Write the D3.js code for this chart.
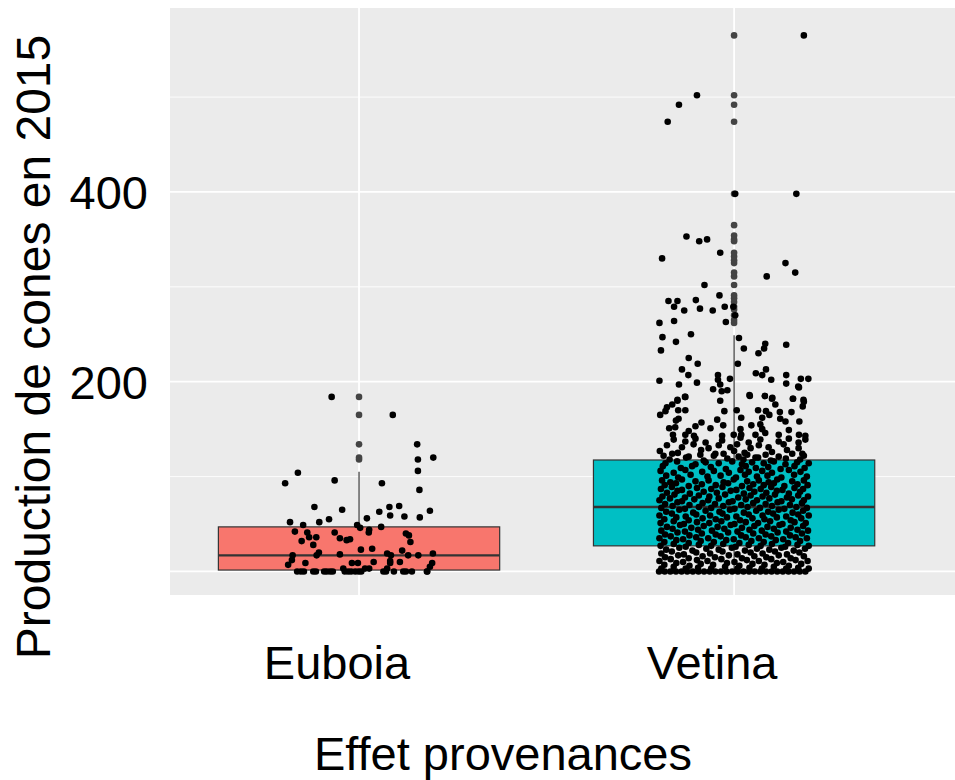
<!DOCTYPE html>
<html><head><meta charset="utf-8">
<script src="https://cdn.jsdelivr.net/npm/d3@7"></script>
<style>
body{margin:0;background:#fff}
svg{display:block;font-family:"Liberation Sans",Arial,Helvetica,sans-serif}
</style>
</head><body>
<svg id="chart" width="955" height="780"></svg>
<script>
// ---------------- DATA ----------------
const categories = ["Euboia", "Vetina"];
const fillColors = ["#F8766D", "#00BFC4"];
const yLabelTicks = [200, 400];
const yMajorBreaks = [0, 200, 400];
const yMinorBreaks = [100, 300, 500];
const xTitle = "Effet provenances";
const yTitle = "Production de cones en 2015";

// boxplot summary (lower whisker, Q1, median, Q3, upper whisker)
const boxLower  = [0, 0];
const boxQ1     = [1.5, 27];
const boxMedian = [17, 68];
const boxQ3     = [47, 117.5];
const boxUpper  = [105, 249];
const euboiaOutliers = [118, 120, 134, 165, 184];
const vetinaOutliers = [262,265,270,276,279,284,288,291,302,311,315,325,328,332,336,348,350,354,365,398,474,492,502,565];

// jittered observations: [horizontal jitter (category units), value]
const euboiaPoints = [
[-0.073,184],[0.090,165],[0.155,134],[0.157,118],[0.198,120],[0.157,106],[0.161,86],[-0.163,104],[-0.197,93],[-0.065,96],
[0.061,93],[-0.119,68],[-0.045,65],[0.081,68],[0.107,69],[0.054,63],[0.083,59],[0.121,58],[0.189,64],[0.162,57],
[-0.184,52],[-0.149,49],[-0.106,52],[-0.080,55],[0.021,56],[-0.005,49],[0.003,46],[0.027,44],[0.026,41],[0.059,47],
[-0.171,42],[-0.138,41],[-0.133,36],[-0.114,36],[-0.153,32],[-0.122,28],[-0.065,41],[-0.051,35],[-0.033,33],[-0.024,34],
[0.125,40],[0.133,38],[0.137,31],[0.005,23],[0.035,24],[0.115,22],[-0.107,20],[-0.113,17],[-0.051,18],[-0.177,17],
[-0.179,12],[-0.189,7],[-0.143,9],[0.075,19],[0.085,17],[0.083,11],[0.083,9],[0.109,10],[0.131,17],[0.158,17],
[0.197,19],[0.195,9],[0.189,5],[0.181,0],[0.039,10],[-0.019,9],[-0.003,9],[-0.042,3],[0.027,3],[0.016,3],[0.075,3],
[-0.165,0],[-0.155,0],[-0.147,0],[-0.122,0],[-0.115,0],[-0.093,0],[-0.086,0],[-0.077,0],[-0.070,0],[-0.038,0],
[-0.029,0],[-0.021,0],[-0.010,0],[-0.001,0],[0.006,0],[0.065,0],[0.072,0],[0.093,0],[0.118,0],[0.125,0],[0.141,0],[0.182,0]
];

const vetinaPoints = [
[0.186,565],[-0.099,502],[-0.147,492],[-0.177,474],[0.003,398],[0.166,398],
[-0.127,353],[-0.093,348],[-0.072,350],[-0.037,336],[-0.192,330],[0.137,325],[0.163,315],[0.087,311],[-0.079,302],[-0.039,291],
[-0.175,285],[-0.151,285],[-0.102,286],[-0.160,279],[-0.133,275],[-0.091,277],[-0.057,275],[-0.025,279],[-0.002,279],
[-0.199,262],[-0.160,264],[-0.022,263],[0.003,270],[-0.191,247],[-0.115,250],[-0.155,242],[-0.195,233],[0.013,246],
[0.026,235],[0.083,240],[0.080,235],[0.065,230],[0.139,239],[-0.121,225],[-0.097,219],[-0.139,213],[-0.122,207],
[0.010,219],[0.058,209],[0.075,207],[0.085,213],[0.099,202],[0.139,207],[0.139,198],[0.178,203],[0.198,203],[0.171,195],
[-0.199,201],[-0.147,197],[-0.099,199],[-0.043,207],[-0.043,202],[-0.037,197],[-0.011,203],[-0.056,192],[-0.033,190],
[-0.018,191],[-0.130,184],[-0.151,181],[0.042,185],[0.082,185],[0.102,183],[0.157,182],[0.185,181],
[-0.131,184],[-0.151,180],[-0.165,176],[-0.179,173],[-0.197,165],[-0.183,169],[-0.149,170],[-0.130,170],[-0.037,180],
[-0.026,169],[0.041,186],[0.082,185],[0.101,182],[0.110,176],[0.157,182],[0.186,179],[0.183,174],[0.173,194],[0.007,170],
[0.064,170],[0.085,169],[0.094,165],[0.122,168],[0.153,168],[0.123,161],[0.137,158],[0.174,158],[0.075,162],[0.070,155],
[0.046,154],[0.019,162],[-0.045,160],[-0.029,154],[-0.063,151],[-0.087,157],[-0.103,153],[-0.121,148],[-0.148,161],
[-0.155,159],[-0.173,151],[-0.157,152],[-0.163,144],[-0.130,144],[-0.107,143],[-0.032,143],[-0.001,144],[0.017,150],
[0.019,144],[0.075,150],[0.083,146],[0.057,144],[0.119,144],[0.146,149],[0.173,144],[0.190,143],
[-0.161,139],[-0.130,137],[-0.103,140],[-0.076,136],[-0.032,138],[0.017,141],[0.039,136],[0.070,139],[0.119,137],[0.146,140],[0.172,136],[0.190,139],
[-0.179,133],[-0.139,131],[-0.108,134],[-0.068,130],[-0.041,133],[-0.010,131],[0.008,134],[0.044,130],[0.066,133],[0.092,131],[0.132,134],[0.172,130],
[-0.198,127],[-0.150,125],[-0.088,128],[-0.050,124],[0.000,127],[0.028,125],[0.101,126],[0.141,128],[0.182,124],
[-0.188,122],[-0.165,124],[-0.121,121],[-0.090,123],[-0.054,122],[-0.028,124],[0.012,121],[0.035,123],[0.057,120],[0.084,123],[0.119,121],[0.155,124],[0.186,122],
[-0.172,118],[-0.128,120],[-0.081,117],[-0.018,119],[0.025,118],[0.064,120],[0.098,117],[0.138,119],[0.176,118],
[-0.183,114],[-0.152,116],[-0.103,113],[-0.076,115],[-0.041,114],[-0.005,116],[0.021,113],[0.048,115],[0.079,114],[0.106,116],[0.137,113],[0.168,115],[0.199,114],
[-0.190,111],[-0.142,109],[-0.112,111],[-0.062,110],[-0.022,108],[0.031,111],[0.058,109],[0.091,110],[0.124,108],[0.161,111],[0.188,109],
[-0.196,106],[-0.161,104],[-0.130,107],[-0.085,105],[-0.054,106],[-0.014,104],[0.017,107],[0.039,105],[0.075,106],[0.101,104],[0.146,107],[0.177,105],
[-0.181,101],[-0.149,99],[-0.116,102],[-0.071,100],[-0.036,101],[0.005,99],[0.029,102],[0.061,100],[0.089,101],[0.126,99],[0.160,102],[0.194,100],
[-0.192,96],[-0.170,94],[-0.139,97],[-0.103,95],[-0.068,96],[-0.028,94],[-0.001,97],[0.035,95],[0.066,96],[0.092,94],[0.115,97],[0.155,95],[0.186,96],
[-0.185,91],[-0.155,93],[-0.121,90],[-0.086,92],[-0.049,91],[-0.016,93],[0.021,90],[0.051,92],[0.079,91],[0.106,93],[0.134,90],[0.169,92],[0.196,91],
[-0.195,87],[-0.166,89],[-0.139,86],[-0.099,88],[-0.061,87],[-0.031,89],[0.006,86],[0.041,88],[0.071,87],[0.099,89],[0.129,86],[0.161,88],[0.184,87],
[-0.179,83],[-0.151,85],[-0.118,82],[-0.081,84],[-0.046,83],[-0.009,85],[0.026,82],[0.054,84],[0.086,83],[0.114,85],[0.146,82],[0.176,84],
[-0.191,79],[-0.159,81],[-0.131,78],[-0.094,80],[-0.066,79],[-0.024,81],[0.011,78],[0.044,80],[0.076,79],[0.109,81],[0.141,78],[0.171,80],[0.197,79],
[-0.199,75],[-0.171,77],[-0.139,74],[-0.106,76],[-0.069,75],[-0.041,77],[-0.004,74],[0.031,76],[0.061,75],[0.094,77],[0.126,74],[0.154,76],[0.186,75],
[-0.184,71],[-0.151,73],[-0.119,70],[-0.084,72],[-0.051,71],[-0.014,73],[0.019,70],[0.051,72],[0.084,71],[0.116,73],[0.149,70],[0.181,72],
[-0.194,67],[-0.164,69],[-0.131,66],[-0.094,68],[-0.061,67],[-0.029,69],[0.001,66],[0.036,68],[0.069,67],[0.101,69],[0.134,66],[0.166,68],[0.194,67],
[-0.181,63],[-0.146,65],[-0.109,62],[-0.076,64],[-0.039,63],[-0.011,65],[0.026,62],[0.059,64],[0.091,63],[0.119,65],[0.156,62],[0.184,64],
[-0.199,59],[-0.166,61],[-0.129,58],[-0.101,60],[-0.064,59],[-0.031,61],[0.006,58],[0.039,60],[0.076,59],[0.104,61],[0.139,58],[0.171,60],[0.199,59],
[-0.186,55],[-0.154,57],[-0.121,54],[-0.084,56],[-0.049,55],[-0.019,57],[0.016,54],[0.049,56],[0.081,55],[0.114,57],[0.151,54],[0.179,56],
[-0.196,51],[-0.161,53],[-0.134,50],[-0.099,52],[-0.066,51],[-0.034,53],[0.001,50],[0.031,52],[0.064,51],[0.096,53],[0.129,50],[0.161,52],[0.191,51],
[-0.179,47],[-0.144,49],[-0.114,46],[-0.081,48],[-0.044,47],[-0.009,49],[0.021,46],[0.054,48],[0.089,47],[0.121,49],[0.151,46],[0.184,48],
[-0.194,43],[-0.164,45],[-0.131,42],[-0.096,44],[-0.059,43],[-0.026,45],[0.009,42],[0.041,44],[0.074,43],[0.106,45],[0.139,42],[0.169,44],[0.197,43],
[-0.184,39],[-0.151,41],[-0.119,38],[-0.086,40],[-0.049,39],[-0.016,41],[0.019,38],[0.051,40],[0.084,39],[0.116,41],[0.149,38],[0.181,40],
[-0.199,35],[-0.169,37],[-0.136,34],[-0.101,36],[-0.069,35],[-0.036,37],[-0.001,34],[0.031,36],[0.066,35],[0.099,37],[0.131,34],[0.164,36],[0.194,35],
[-0.186,31],[-0.154,33],[-0.121,30],[-0.089,32],[-0.054,31],[-0.021,33],[0.014,30],[0.046,32],[0.079,31],[0.111,33],[0.144,30],[0.176,32],
[-0.196,27],[-0.161,29],[-0.129,26],[-0.094,28],[-0.061,27],[-0.029,29],[0.004,26],[0.039,28],[0.071,27],[0.101,29],[0.136,26],[0.169,28],[0.199,27],
[-0.181,23],[-0.146,25],[-0.111,22],[-0.074,24],[-0.041,23],[-0.006,25],[0.029,22],[0.061,24],[0.094,23],[0.126,25],[0.159,22],[0.189,24],
[-0.194,19],[-0.166,21],[-0.134,18],[-0.101,20],[-0.064,19],[-0.031,21],[0.009,18],[0.044,20],[0.076,19],[0.109,21],[0.141,18],[0.174,20],
[-0.184,15],[-0.149,17],[-0.121,14],[-0.084,16],[-0.051,15],[-0.014,17],[0.021,14],[0.054,16],[0.086,15],[0.119,17],[0.151,14],[0.186,16],
[-0.199,11],[-0.169,13],[-0.136,10],[-0.099,12],[-0.071,11],[-0.034,13],[0.001,10],[0.034,12],[0.066,11],[0.099,13],[0.131,10],[0.164,12],[0.196,11],
[-0.186,7],[-0.154,9],[-0.119,6],[-0.089,8],[-0.056,7],[-0.019,9],[0.014,6],[0.049,8],[0.081,7],[0.114,9],[0.146,6],[0.179,8],
[-0.194,3],[-0.161,5],[-0.129,3],[-0.096,4],[-0.061,3],[-0.024,5],[0.009,3],[0.041,4],[0.074,3],[0.106,5],[0.139,3],[0.171,4],[0.199,3],
[-0.200,0],[-0.185,0],[-0.170,0],[-0.155,0],[-0.140,0],[-0.125,0],[-0.110,0],[-0.095,0],[-0.080,0],[-0.065,0],[-0.050,0],[-0.035,0],[-0.020,0],[-0.005,0],
[0.010,0],[0.025,0],[0.040,0],[0.055,0],[0.070,0],[0.085,0],[0.100,0],[0.115,0],[0.130,0],[0.145,0],[0.160,0],[0.175,0],[0.190,0]
];

// ---------------- LAYOUT ----------------
const svg = d3.select("#chart");
const panel = {left: 170, right: 955, top: 8, bottom: 595};

// x: category index 1..n on a continuous scale (discrete positions)
const x = d3.scaleLinear().domain([0.496, 2.589]).range([panel.left, panel.right]);
const y = d3.scaleLinear().domain([-24.8, 593.9]).range([panel.bottom, panel.top]);
const catPos = (i) => x(i + 1);
const boxHalf = 0.375; // box width 0.75
const ptR = 3.3;

svg.append("rect").attr("x", panel.left).attr("y", panel.top)
  .attr("width", panel.right - panel.left).attr("height", panel.bottom - panel.top)
  .attr("fill", "#EBEBEB");

const grid = svg.append("g");
grid.selectAll("line.minor").data(yMinorBreaks).join("line")
  .attr("x1", panel.left).attr("x2", panel.right)
  .attr("y1", d => y(d)).attr("y2", d => y(d))
  .attr("stroke", "#fff").attr("stroke-width", 0.9);
grid.selectAll("line.major").data(yMajorBreaks).join("line")
  .attr("x1", panel.left).attr("x2", panel.right)
  .attr("y1", d => y(d)).attr("y2", d => y(d))
  .attr("stroke", "#fff").attr("stroke-width", 1.8);
grid.selectAll("line.vmajor").data(categories).join("line")
  .attr("x1", (d, i) => catPos(i)).attr("x2", (d, i) => catPos(i))
  .attr("y1", panel.top).attr("y2", panel.bottom)
  .attr("stroke", "#fff").attr("stroke-width", 1.8);

// boxplots
const boxes = categories.map((c, i) => ({
  cat: c, i, lower: boxLower[i], q1: boxQ1[i], med: boxMedian[i], q3: boxQ3[i], upper: boxUpper[i],
  fill: fillColors[i], outliers: i === 0 ? euboiaOutliers : vetinaOutliers
}));
const bg = svg.append("g");
boxes.forEach(b => {
  const cx = catPos(b.i);
  const g = bg.append("g");
  g.append("line").attr("x1", cx).attr("x2", cx).attr("y1", y(b.q3)).attr("y2", y(b.upper))
    .attr("stroke", "#333").attr("stroke-width", 1.2);
  g.append("line").attr("x1", cx).attr("x2", cx).attr("y1", y(b.q1)).attr("y2", y(b.lower))
    .attr("stroke", "#333").attr("stroke-width", 1.2);
  g.append("rect").attr("x", x(b.i + 1 - boxHalf)).attr("y", y(b.q3))
    .attr("width", x(b.i + 1 + boxHalf) - x(b.i + 1 - boxHalf)).attr("height", y(b.q1) - y(b.q3))
    .attr("fill", b.fill).attr("stroke", "#333").attr("stroke-width", 1.2);
  g.append("line").attr("x1", x(b.i + 1 - boxHalf)).attr("x2", x(b.i + 1 + boxHalf))
    .attr("y1", y(b.med)).attr("y2", y(b.med))
    .attr("stroke", "#333").attr("stroke-width", 2.4);
  g.selectAll("circle").data(b.outliers).join("circle")
    .attr("cx", cx).attr("cy", d => y(d)).attr("r", ptR).attr("fill", "#444");
});

// jittered points
const pts = svg.append("g");
[euboiaPoints, vetinaPoints].forEach((arr, i) => {
  pts.append("g").selectAll("circle").data(arr).join("circle")
    .attr("cx", d => x(i + 1 + d[0])).attr("cy", d => y(d[1]))
    .attr("r", ptR).attr("fill", "#000");
});

// axis labels
svg.append("g").selectAll("text").data(yLabelTicks).join("text")
  .attr("x", 148).attr("y", d => y(d)).attr("dy", "0.36em")
  .attr("text-anchor", "end").attr("font-size", 47).attr("fill", "#000")
  .text(d => d);

svg.append("g").selectAll("text").data(categories).join("text")
  .attr("x", (d, i) => catPos(i) - 22).attr("y", 679)
  .attr("text-anchor", "middle").attr("font-size", 47).attr("fill", "#000")
  .text(d => d);

svg.append("text").attr("x", 503).attr("y", 770).attr("text-anchor", "middle")
  .attr("font-size", 47).attr("fill", "#000").text(xTitle);

svg.append("text").attr("transform", "translate(50,347) rotate(-90)")
  .attr("text-anchor", "middle").attr("font-size", 48).attr("fill", "#000").text(yTitle);
</script>
</body></html>
